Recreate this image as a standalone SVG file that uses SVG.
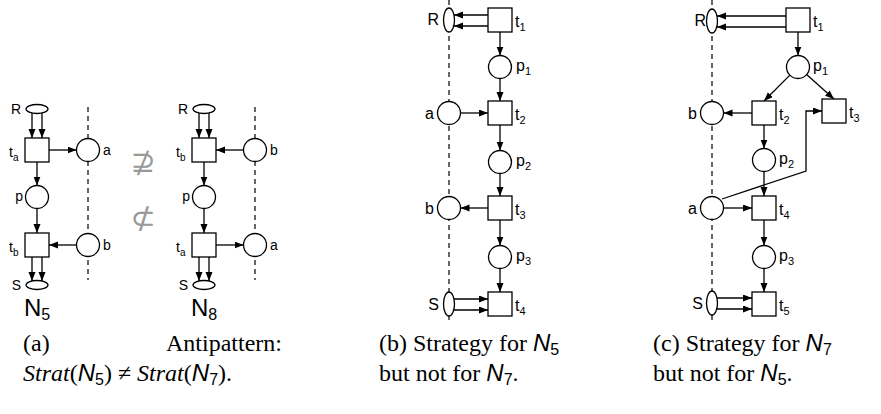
<svg xmlns="http://www.w3.org/2000/svg" width="881" height="414" viewBox="0 0 881 414">
<style>
.ln{stroke:#000;stroke-width:1.3;fill:none}
.ar{marker-end:url(#ah)}
.nd{fill:#fff;stroke:#000;stroke-width:1.3}
.dash{stroke:#000;stroke-width:1.2;stroke-dasharray:5 4;fill:none}
.lb{font-family:"Liberation Sans",Arial,sans-serif;font-size:16px;fill:#000}
.la{font-family:"Liberation Sans",Arial,sans-serif;font-size:14px;fill:#000}
.nm{font-family:"Liberation Sans",Arial,sans-serif;font-size:24px;fill:#000}
.nms{font-size:16px}
.sb{font-size:11px}
.sba{font-size:10px}
.cap{font-family:"Liberation Serif","Times New Roman",serif;font-size:24px;fill:#000}
.ns{font-family:"Liberation Sans",Arial,sans-serif}
.sym{font-family:"DejaVu Sans",sans-serif;font-size:30px;fill:#999}
</style>
<defs>
<marker id="ah" markerUnits="userSpaceOnUse" markerWidth="10" markerHeight="8" refX="9" refY="3.5" orient="auto">
<path d="M0,0 L9,3.5 L0,7 Z" fill="#000"/>
</marker>
</defs>

<g id="dashes">
<line class="dash" x1="88" y1="107" x2="88" y2="280"/>
<line class="dash" x1="255" y1="107" x2="255" y2="280"/>
<line class="dash" x1="449" y1="0" x2="449" y2="323"/>
<line class="dash" x1="712" y1="0" x2="712" y2="323"/>
</g>

<g id="connectors">
<!-- panel a net 1 -->
<path class="ln ar" d="M32,113 V138"/>
<path class="ln ar" d="M42,113 V138"/>
<path class="ln ar" d="M49,150 H76.5"/>
<path class="ln ar" d="M37,162 V185.5"/>
<path class="ln ar" d="M37,208.5 V233"/>
<path class="ln ar" d="M76.5,245 H49"/>
<path class="ln ar" d="M32,257 V281"/>
<path class="ln ar" d="M42,257 V281"/>
<!-- panel a net 2 -->
<path class="ln ar" d="M199,113 V138"/>
<path class="ln ar" d="M209,113 V138"/>
<path class="ln ar" d="M243.5,150 H216"/>
<path class="ln ar" d="M204,162 V185.5"/>
<path class="ln ar" d="M204,208.5 V233"/>
<path class="ln ar" d="M216,245 H243.5"/>
<path class="ln ar" d="M199,257 V281"/>
<path class="ln ar" d="M209,257 V281"/>
<!-- panel b -->
<path class="ln ar" d="M488,15 H454"/>
<path class="ln ar" d="M488,26 H454"/>
<path class="ln ar" d="M500,32 V55.5"/>
<path class="ln ar" d="M500,78.5 V101"/>
<path class="ln ar" d="M460.5,113 H488"/>
<path class="ln ar" d="M500,125 V150.5"/>
<path class="ln ar" d="M500,173.5 V196"/>
<path class="ln ar" d="M488,208 H460.5"/>
<path class="ln ar" d="M500,220 V245.5"/>
<path class="ln ar" d="M500,268.5 V292"/>
<path class="ln ar" d="M454,299 H488"/>
<path class="ln ar" d="M454,310 H488"/>
<!-- panel c -->
<path class="ln ar" d="M786,16 H717"/>
<path class="ln ar" d="M786,27 H717"/>
<path class="ln ar" d="M798,32 V55.5"/>
<path class="ln ar" d="M789.9,75.1 L764,101"/>
<path class="ln ar" d="M806.6,74.6 L834,99"/>
<path class="ln ar" d="M752,113 H723.5"/>
<path class="ln ar" d="M764,125 V148.5"/>
<path class="ln ar" d="M764,171.5 V196"/>
<path class="ln ar" d="M722,199 L806,171 V111 H822"/>
<path class="ln ar" d="M723.5,208 H752"/>
<path class="ln ar" d="M764,220 V245.5"/>
<path class="ln ar" d="M764,268.5 V292"/>
<path class="ln ar" d="M717,298 H752"/>
<path class="ln ar" d="M717,309 H752"/>
</g>

<!-- panel a net 1 nodes -->
<g id="a1_R"><ellipse class="nd" cx="37" cy="109" rx="11" ry="4.5"/><text class="la" x="21" y="114" text-anchor="end">R</text></g>
<g id="a1_ta"><rect class="nd" x="25" y="138" width="24" height="24"/><text class="la" x="9" y="157">t<tspan class="sba" dy="4">a</tspan></text></g>
<g id="a1_a"><circle class="nd" cx="88" cy="150" r="11.5"/><text class="la" x="103" y="155">a</text></g>
<g id="a1_p"><circle class="nd" cx="37" cy="197" r="11.5"/><text class="la" x="23" y="201" text-anchor="end">p</text></g>
<g id="a1_tb"><rect class="nd" x="25" y="233" width="24" height="24"/><text class="la" x="9" y="252">t<tspan class="sba" dy="4">b</tspan></text></g>
<g id="a1_b"><circle class="nd" cx="88" cy="245" r="11.5"/><text class="la" x="103" y="250">b</text></g>
<g id="a1_S"><ellipse class="nd" cx="37" cy="285" rx="11" ry="4.5"/><text class="la" x="21" y="290" text-anchor="end">S</text></g>
<g id="a1_name"><text class="nm" x="24" y="316">N<tspan class="nms" dy="4">5</tspan></text></g>

<!-- panel a net 2 nodes -->
<g id="a2_R"><ellipse class="nd" cx="204" cy="109" rx="11" ry="4.5"/><text class="la" x="188" y="114" text-anchor="end">R</text></g>
<g id="a2_tb"><rect class="nd" x="192" y="138" width="24" height="24"/><text class="la" x="176" y="157">t<tspan class="sba" dy="4">b</tspan></text></g>
<g id="a2_b"><circle class="nd" cx="255" cy="150" r="11.5"/><text class="la" x="270" y="155">b</text></g>
<g id="a2_p"><circle class="nd" cx="204" cy="197" r="11.5"/><text class="la" x="190" y="201" text-anchor="end">p</text></g>
<g id="a2_ta"><rect class="nd" x="192" y="233" width="24" height="24"/><text class="la" x="176" y="252">t<tspan class="sba" dy="4">a</tspan></text></g>
<g id="a2_a"><circle class="nd" cx="255" cy="245" r="11.5"/><text class="la" x="270" y="250">a</text></g>
<g id="a2_S"><ellipse class="nd" cx="204" cy="285" rx="11" ry="4.5"/><text class="la" x="188" y="290" text-anchor="end">S</text></g>
<g id="a2_name"><text class="nm" x="191" y="316">N<tspan class="nms" dy="4">8</tspan></text></g>

<g id="relations">
<text class="sym" x="143" y="172" text-anchor="middle">⊉</text>
<text class="sym" x="143" y="228" text-anchor="middle">⊄</text>
</g>

<!-- panel b nodes -->
<g id="b_R"><ellipse class="nd" cx="449" cy="20" rx="5.5" ry="12"/><text class="lb" x="439" y="25" text-anchor="end">R</text></g>
<g id="b_t1"><rect class="nd" x="488" y="8" width="24" height="24"/><text class="lb" x="515" y="27">t<tspan class="sb" dy="4">1</tspan></text></g>
<g id="b_p1"><circle class="nd" cx="500" cy="67" r="11.5"/><text class="lb" x="516" y="71">p<tspan class="sb" dy="4">1</tspan></text></g>
<g id="b_a"><circle class="nd" cx="449" cy="113" r="11.5"/><text class="lb" x="434" y="119" text-anchor="end">a</text></g>
<g id="b_t2"><rect class="nd" x="488" y="101" width="24" height="24"/><text class="lb" x="515" y="120">t<tspan class="sb" dy="4">2</tspan></text></g>
<g id="b_p2"><circle class="nd" cx="500" cy="162" r="11.5"/><text class="lb" x="516" y="166">p<tspan class="sb" dy="4">2</tspan></text></g>
<g id="b_t3"><rect class="nd" x="488" y="196" width="24" height="24"/><text class="lb" x="515" y="215">t<tspan class="sb" dy="4">3</tspan></text></g>
<g id="b_b"><circle class="nd" cx="449" cy="208" r="11.5"/><text class="lb" x="434" y="214" text-anchor="end">b</text></g>
<g id="b_p3"><circle class="nd" cx="500" cy="257" r="11.5"/><text class="lb" x="516" y="261">p<tspan class="sb" dy="4">3</tspan></text></g>
<g id="b_t4"><rect class="nd" x="488" y="292" width="24" height="24"/><text class="lb" x="515" y="311">t<tspan class="sb" dy="4">4</tspan></text></g>
<g id="b_S"><ellipse class="nd" cx="449" cy="304" rx="5.5" ry="12"/><text class="lb" x="439" y="310" text-anchor="end">S</text></g>

<!-- panel c nodes -->
<g id="c_R"><ellipse class="nd" cx="712" cy="21" rx="5.5" ry="12"/><text class="lb" x="706" y="26" text-anchor="end">R</text></g>
<g id="c_t1"><rect class="nd" x="786" y="8" width="24" height="24"/><text class="lb" x="813" y="27">t<tspan class="sb" dy="4">1</tspan></text></g>
<g id="c_p1"><circle class="nd" cx="798" cy="67" r="11.5"/><text class="lb" x="813" y="71">p<tspan class="sb" dy="4">1</tspan></text></g>
<g id="c_t2"><rect class="nd" x="752" y="101" width="24" height="24"/><text class="lb" x="779" y="120">t<tspan class="sb" dy="4">2</tspan></text></g>
<g id="c_t3"><rect class="nd" x="822" y="99" width="24" height="24"/><text class="lb" x="849" y="118">t<tspan class="sb" dy="4">3</tspan></text></g>
<g id="c_b"><circle class="nd" cx="712" cy="113" r="11.5"/><text class="lb" x="697" y="119" text-anchor="end">b</text></g>
<g id="c_p2"><circle class="nd" cx="764" cy="160" r="11.5"/><text class="lb" x="779" y="164">p<tspan class="sb" dy="4">2</tspan></text></g>
<g id="c_a"><circle class="nd" cx="712" cy="208" r="11.5"/><text class="lb" x="697" y="214" text-anchor="end">a</text></g>
<g id="c_t4"><rect class="nd" x="752" y="196" width="24" height="24"/><text class="lb" x="779" y="215">t<tspan class="sb" dy="4">4</tspan></text></g>
<g id="c_p3"><circle class="nd" cx="764" cy="257" r="11.5"/><text class="lb" x="779" y="261">p<tspan class="sb" dy="4">3</tspan></text></g>
<g id="c_t5"><rect class="nd" x="752" y="292" width="24" height="24"/><text class="lb" x="779" y="311">t<tspan class="sb" dy="4">5</tspan></text></g>
<g id="c_S"><ellipse class="nd" cx="712" cy="303" rx="5.5" ry="12"/><text class="lb" x="703" y="309" text-anchor="end">S</text></g>

<g id="captions">
<text class="cap" x="23" y="351">(a)</text>
<text class="cap" x="282" y="351" text-anchor="end">Antipattern:</text>
<text class="cap" x="23" y="381"><tspan font-style="italic">Strat</tspan>(<tspan class="ns" font-style="italic">N</tspan><tspan class="ns" font-size="16" dy="4">5</tspan><tspan dy="-4">) ≠ </tspan><tspan font-style="italic">Strat</tspan>(<tspan class="ns" font-style="italic">N</tspan><tspan class="ns" font-size="16" dy="4">7</tspan><tspan dy="-4">).</tspan></text>
<text class="cap" x="379" y="351">(b) Strategy for <tspan class="ns" font-style="italic">N</tspan><tspan class="ns" font-size="16" dy="4">5</tspan></text>
<text class="cap" x="379" y="381">but not for <tspan class="ns" font-style="italic">N</tspan><tspan class="ns" font-size="16" dy="4">7</tspan><tspan dy="-4">.</tspan></text>
<text class="cap" x="653" y="351">(c) Strategy for <tspan class="ns" font-style="italic">N</tspan><tspan class="ns" font-size="16" dy="4">7</tspan></text>
<text class="cap" x="653" y="381">but not for <tspan class="ns" font-style="italic">N</tspan><tspan class="ns" font-size="16" dy="4">5</tspan><tspan dy="-4">.</tspan></text>
</g>
</svg>
